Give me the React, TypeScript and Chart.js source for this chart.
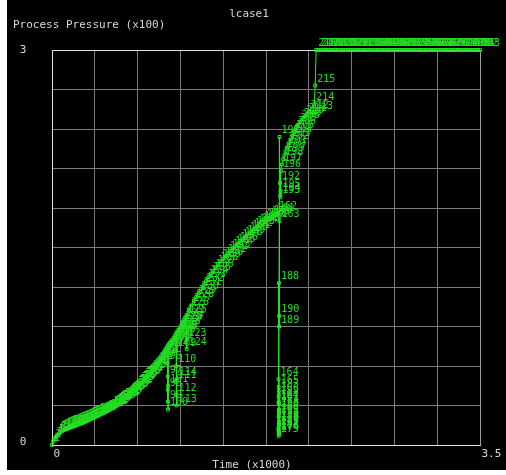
import { useEffect, useRef } from "react";
import { Chart, registerables } from "chart.js";

Chart.register(...registerables);

const chartTitle = "lcase1";
const yTitle = "Process Pressure (x100)";
const xTitle = "Time (x1000)";
const xTickValues = [0, 3.5];
const xTickLabels = ["0", "3.5"];
const yTickValues = [0, 3];
const yTickLabels = ["0", "3"];

// Time (x1000) of each sample
const timeK = [
  0.0, 0.01, 0.02, 0.03, 0.04, 0.05, 0.06, 0.07, 0.08, 0.09,
  0.1, 0.11, 0.12, 0.13, 0.14, 0.15, 0.16, 0.17, 0.18, 0.19,
  0.2, 0.21, 0.22, 0.23, 0.24, 0.25, 0.26, 0.27, 0.28, 0.29,
  0.3, 0.31, 0.32, 0.33, 0.34, 0.35, 0.36, 0.37, 0.38, 0.39,
  0.4, 0.41, 0.42, 0.43, 0.44, 0.45, 0.46, 0.47, 0.48, 0.49,
  0.5, 0.51, 0.52, 0.53, 0.54, 0.55, 0.56, 0.57, 0.58, 0.59,
  0.6, 0.61, 0.62, 0.63, 0.64, 0.65, 0.66, 0.67, 0.68, 0.69,
  0.7, 0.71, 0.72, 0.73, 0.74, 0.75, 0.76, 0.77, 0.78, 0.79,
  0.8, 0.81, 0.82, 0.83, 0.84, 0.85, 0.86, 0.87, 0.88, 0.89,
  0.9, 0.91, 0.92, 0.93, 0.94,
  0.945, 0.946, 0.947, 0.948, 0.949, 0.95, 0.952,
  0.96, 0.97, 0.98, 0.99, 1.0, 1.01,
  1.015, 1.016, 1.017, 1.018, 1.019, 1.02, 1.022,
  1.03, 1.04, 1.05, 1.06, 1.07, 1.08, 1.09,
  1.1, 1.101, 1.103,
  1.12, 1.14, 1.16, 1.18, 1.2, 1.22, 1.24, 1.26, 1.28, 1.3,
  1.32, 1.34, 1.36, 1.38, 1.4, 1.42, 1.44, 1.46, 1.48, 1.5,
  1.52, 1.54, 1.56, 1.58, 1.6, 1.62, 1.64, 1.66, 1.68, 1.7,
  1.72, 1.74, 1.76, 1.78, 1.8, 1.82, 1.84,
  1.86,
  1.853, 1.854, 1.855, 1.853, 1.856, 1.854, 1.855, 1.857, 1.853, 1.855, 1.856, 1.854,
  1.855, 1.853, 1.857, 1.854, 1.855, 1.856, 1.853, 1.855, 1.854, 1.856, 1.855, 1.853,
  1.856, 1.857, 1.858,
  1.86,
  1.865, 1.867, 1.868, 1.869, 1.872,
  1.88, 1.89, 1.9, 1.91, 1.92, 1.935, 1.95, 1.965, 1.98, 1.995, 2.01, 2.025, 2.04, 2.06, 2.08, 2.1,
  2.135, 2.145, 2.152,
  2.16, 2.18, 2.2, 2.22, 2.24, 2.26, 2.28, 2.3, 2.32, 2.34,
  2.36, 2.38, 2.4, 2.42, 2.44, 2.46, 2.48, 2.5, 2.52, 2.54,
  2.56, 2.58, 2.6, 2.62, 2.64, 2.66, 2.68, 2.7, 2.72, 2.74,
  2.76, 2.78, 2.8, 2.82, 2.84, 2.86, 2.88, 2.9, 2.92, 2.94,
  2.96, 2.98, 3.0, 3.02, 3.04, 3.06, 3.08, 3.1, 3.12, 3.14,
  3.16, 3.18, 3.2, 3.22, 3.24, 3.26, 3.28, 3.3, 3.32, 3.34,
  3.36, 3.38, 3.4, 3.42, 3.44, 3.46, 3.48, 3.5,
];

// Process pressure (x100) of each sample
const pressure = [
  0.0, 0.03, 0.045, 0.06, 0.07, 0.08, 0.09, 0.1, 0.105, 0.11,
  0.115, 0.12, 0.122, 0.126, 0.13, 0.133, 0.136, 0.14, 0.143, 0.147,
  0.15, 0.154, 0.158, 0.162, 0.165, 0.168, 0.172, 0.176, 0.18, 0.185,
  0.19, 0.194, 0.198, 0.203, 0.207, 0.212, 0.216, 0.22, 0.225, 0.23,
  0.234, 0.238, 0.243, 0.248, 0.252, 0.257, 0.262, 0.266, 0.272, 0.278,
  0.284, 0.29, 0.296, 0.302, 0.309, 0.316, 0.323, 0.33, 0.338, 0.345,
  0.353, 0.36, 0.368, 0.376, 0.384, 0.393, 0.402, 0.411, 0.42, 0.43,
  0.44, 0.45, 0.46, 0.47, 0.48, 0.49, 0.5, 0.51, 0.52, 0.53,
  0.54, 0.552, 0.564, 0.576, 0.588, 0.6, 0.613, 0.626, 0.639, 0.652,
  0.665, 0.68, 0.695, 0.71, 0.725,
  0.62, 0.52, 0.42, 0.33, 0.27, 0.45, 0.74,
  0.755, 0.77, 0.785, 0.8, 0.815, 0.83,
  0.72, 0.6, 0.48, 0.38, 0.3, 0.5, 0.85,
  0.86, 0.875, 0.89, 0.91, 0.93, 0.95, 0.97,
  0.8, 0.73, 0.98,
  1.03, 1.06, 1.095, 1.125, 1.155, 1.185, 1.215, 1.245, 1.275, 1.3,
  1.325, 1.35, 1.375, 1.395, 1.415, 1.435, 1.455, 1.475, 1.495, 1.515,
  1.53, 1.55, 1.565, 1.58, 1.6, 1.615, 1.63, 1.645, 1.66, 1.67,
  1.685, 1.7, 1.71, 1.725, 1.735, 1.745, 1.76,
  1.7,
  0.5, 0.44, 0.38, 0.32, 0.27, 0.22, 0.18, 0.15, 0.12, 0.1, 0.08, 0.07,
  0.09, 0.13, 0.17, 0.21, 0.26, 0.31, 0.36, 0.41, 0.33, 0.24, 0.16, 0.11,
  1.23, 0.9, 0.98,
  2.34,
  1.99, 1.88, 1.9, 1.93, 2.08,
  2.13, 2.17, 2.2, 2.23, 2.26, 2.29, 2.32, 2.35, 2.38, 2.41, 2.43, 2.45, 2.47, 2.49, 2.51, 2.53,
  2.52, 2.59, 2.73,
  3.0, 3.0, 3.0, 3.0, 3.0, 3.0, 3.0, 3.0, 3.0, 3.0,
  3.0, 3.0, 3.0, 3.0, 3.0, 3.0, 3.0, 3.0, 3.0, 3.0,
  3.0, 3.0, 3.0, 3.0, 3.0, 3.0, 3.0, 3.0, 3.0, 3.0,
  3.0, 3.0, 3.0, 3.0, 3.0, 3.0, 3.0, 3.0, 3.0, 3.0,
  3.0, 3.0, 3.0, 3.0, 3.0, 3.0, 3.0, 3.0, 3.0, 3.0,
  3.0, 3.0, 3.0, 3.0, 3.0, 3.0, 3.0, 3.0, 3.0, 3.0,
  3.0, 3.0, 3.0, 3.0, 3.0, 3.0, 3.0, 3.0,
];

const sampleIds = timeK.map((_, i) => String(i + 1));

const GREEN = "#22ee22";
const LABEL_GREEN = "#22dd22";
const TEXT = "#d8d8d8";
const MONO = "'DejaVu Sans Mono', 'Liberation Mono', monospace";

export default function App() {
  const ref = useRef<HTMLCanvasElement>(null);

  useEffect(() => {
    if (!ref.current) return;

    const textPlugin = {
      id: "plotTexts",
      afterDatasetsDraw(chart: any) {
        const ctx = chart.ctx;
        const meta = chart.getDatasetMeta(0);
        ctx.save();
        ctx.font = `10px ${MONO}`;
        ctx.fillStyle = LABEL_GREEN;
        ctx.textAlign = "left";
        ctx.textBaseline = "alphabetic";
        meta.data.forEach((el: any, i: number) => {
          ctx.fillText(sampleIds[i], el.x + 2, el.y - 4);
        });

        const xs = chart.scales.x;
        const ys = chart.scales.y;
        ctx.font = `11px ${MONO}`;
        ctx.fillStyle = TEXT;
        ctx.textBaseline = "middle";

        ctx.textAlign = "center";
        ctx.fillText(chartTitle, 242, 14);
        ctx.fillText(xTitle, 245, 465);

        ctx.textAlign = "left";
        ctx.fillText(yTitle, 6, 25);

        ctx.textAlign = "center";
        yTickValues.forEach((v, i) => {
          const y = ys.getPixelForValue(v);
          ctx.fillText(yTickLabels[i], 16, i === 0 ? y - 3 : y);
        });

        ctx.textAlign = "left";
        xTickValues.forEach((v, i) => {
          const x = xs.getPixelForValue(v);
          ctx.fillText(xTickLabels[i], x + 1.5, 454);
        });
        ctx.restore();
      },
    };

    const chart = new Chart(ref.current, {
      type: "line",
      data: {
        datasets: [
          {
            data: timeK.map((t, i) => ({ x: t, y: pressure[i] })),
            borderColor: GREEN,
            borderWidth: 1,
            backgroundColor: "transparent",
            pointStyle: "rect",
            pointRadius: 2,
            pointBorderColor: GREEN,
            pointBackgroundColor: "transparent",
            pointBorderWidth: 1,
            tension: 0,
            clip: false,
          },
        ],
      },
      options: {
        animation: false,
        responsive: false,
        maintainAspectRatio: false,
        parsing: false,
        layout: { padding: { left: 45, right: 26, top: 50, bottom: 25 } },
        plugins: {
          legend: { display: false },
          tooltip: { enabled: false },
          title: { display: false },
        },
        scales: {
          x: {
            type: "linear",
            min: 0,
            max: 3.5,
            ticks: { display: false, count: 11 },
            grid: {
              drawTicks: false,
              color: (c: any) => (c.index === 10 ? "#9a9a9a" : "#7a7a7a"),
              lineWidth: 1,
            },
            border: { color: "#e0e0e0", width: 1 },
          },
          y: {
            type: "linear",
            min: 0,
            max: 3,
            ticks: { display: false, count: 11 },
            grid: {
              drawTicks: false,
              color: (c: any) => (c.index === 10 ? "#e0e0e0" : "#7a7a7a"),
              lineWidth: 1,
            },
            border: { color: "#e0e0e0", width: 1 },
          },
        },
      },
      plugins: [textPlugin],
    });

    return () => chart.destroy();
  }, []);

  return (
    <div
      style={{
        position: "fixed",
        left: 0,
        top: 0,
        width: 506,
        height: 475,
        background: "#ffffff",
      }}
    >
      <canvas
        ref={ref}
        width={499}
        height={470}
        style={{
          position: "absolute",
          left: 7,
          top: 0,
          width: 499,
          height: 470,
          background: "#000000",
        }}
      />
    </div>
  );
}
